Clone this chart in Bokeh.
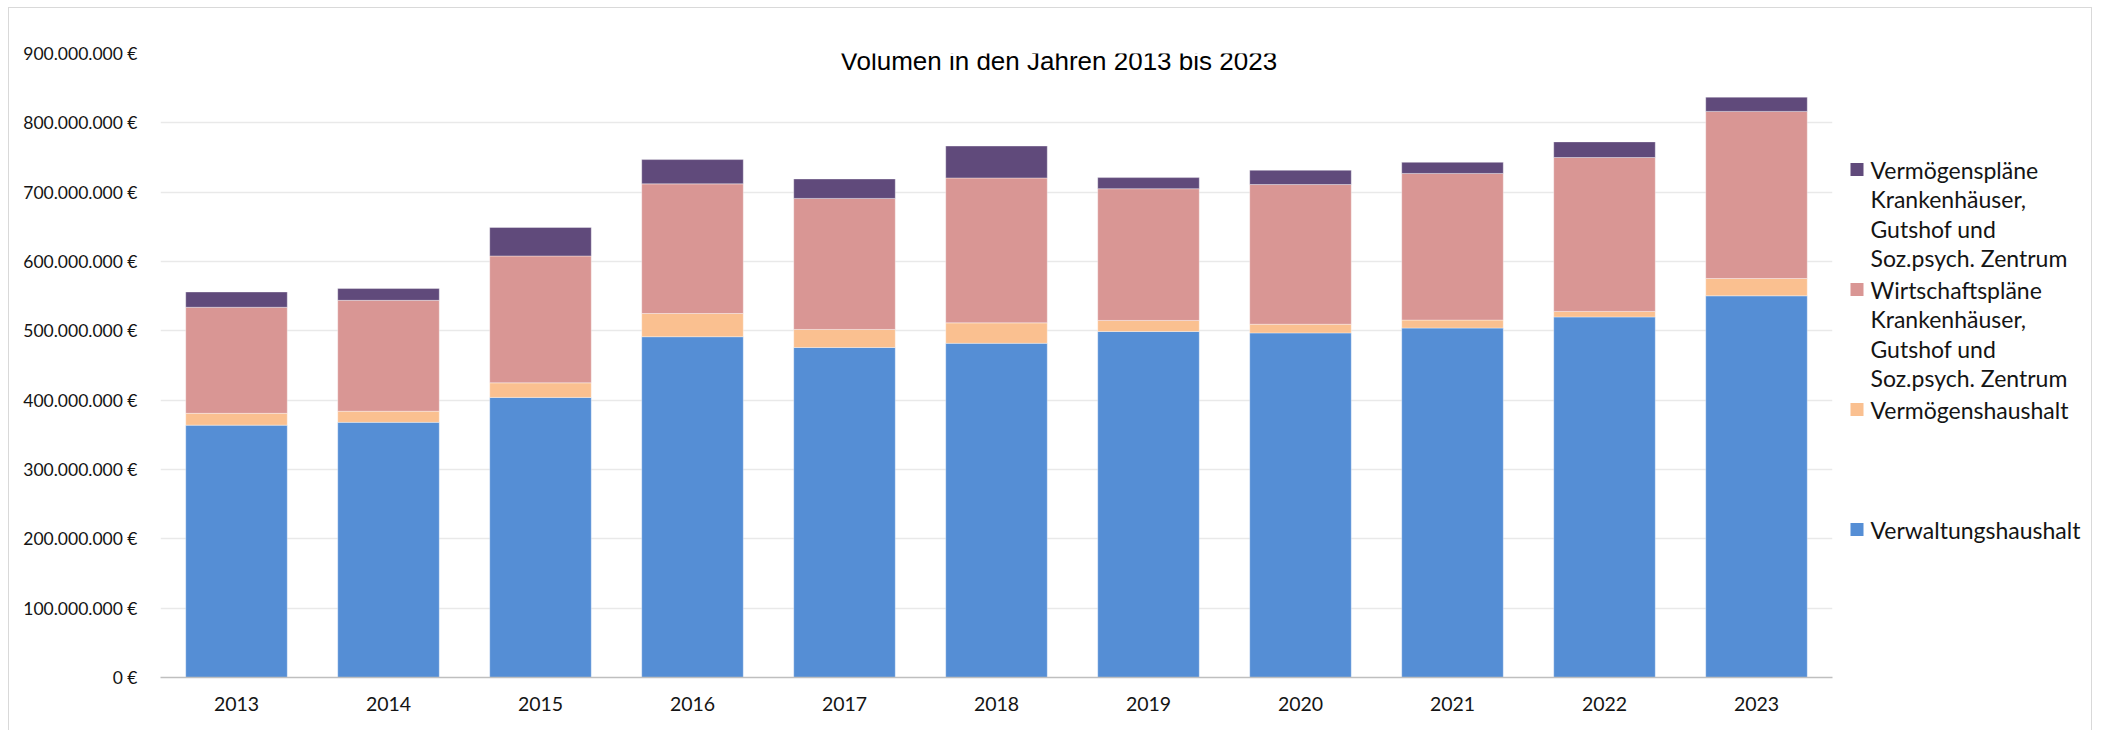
from bokeh.plotting import figure
from bokeh.models import FactorRange, Range1d, FixedTicker, Label, ColumnDataSource
from bokeh.layouts import row
from bokeh.embed import file_html
from bokeh.resources import INLINE
from bokeh.core.properties import value

# ---------------- data ----------------
years = ["2013", "2014", "2015", "2016", "2017", "2018", "2019", "2020", "2021", "2022", "2023"]

verwaltungshaushalt = [364_000_000, 368_000_000, 404_000_000, 491_500_000, 476_000_000, 482_000_000,
                       499_000_000, 497_000_000, 504_000_000, 520_000_000, 550_500_000]
vermoegenshaushalt = [17_000_000, 16_000_000, 21_000_000, 33_500_000, 26_000_000, 29_500_000,
                      16_000_000, 12_500_000, 11_500_000, 8_000_000, 25_000_000]
wirtschaftsplaene = [153_000_000, 160_000_000, 183_000_000, 187_000_000, 189_000_000, 209_000_000,
                     190_000_000, 201_500_000, 211_500_000, 222_000_000, 241_000_000]
vermoegensplaene = [22_000_000, 17_000_000, 41_000_000, 35_000_000, 28_000_000, 46_000_000,
                    16_000_000, 20_500_000, 16_000_000, 22_500_000, 20_500_000]

series_names = [
    "Verwaltungshaushalt",
    "Vermögenshaushalt",
    "Wirtschaftspläne\nKrankenhäuser,\nGutshof und\nSoz.psych. Zentrum",
    "Vermögenspläne\nKrankenhäuser,\nGutshof und\nSoz.psych. Zentrum",
]
colors = ["#558ED5", "#FAC090", "#D99694", "#604A7B"]
y_ticks = [0, 100_000_000, 200_000_000, 300_000_000, 400_000_000, 500_000_000,
           600_000_000, 700_000_000, 800_000_000, 900_000_000]
title_text = "Volumen in den Jahren 2013 bis 2023"

# ---------------- main chart ----------------
keys = ["s0", "s1", "s2", "s3"]
source = ColumnDataSource(dict(year=years, s0=verwaltungshaushalt, s1=vermoegenshaushalt,
                               s2=wirtschaftsplaene, s3=vermoegensplaene))

H = 722
TOP, BOTTOM = 45, 53
p = figure(x_range=FactorRange(*years), y_range=Range1d(0, y_ticks[-1]),
           width=1831, height=H, output_backend="svg", toolbar_location=None,
           min_border_left=151, min_border_right=8, min_border_top=TOP, min_border_bottom=BOTTOM)
p.outline_line_color = None
p.background_fill_color = "white"
p.border_fill_color = "white"

p.vbar_stack(keys, x="year", width=0.668, fill_color=colors, line_color="white",
             line_alpha=0.35, line_width=1, source=source)

p.xgrid.grid_line_color = None
p.ygrid.grid_line_color = "#e9e9e9"
p.ygrid.grid_line_width = 1.5

p.yaxis.ticker = FixedTicker(ticks=y_ticks)
p.yaxis.major_label_overrides = {t: f"{t:,}".replace(",", ".") + " €" for t in y_ticks}
p.yaxis.axis_line_color = None
p.yaxis.major_tick_line_color = None
p.yaxis.minor_tick_line_color = None
p.yaxis.major_label_standoff = 17
p.yaxis.major_label_text_font = "Lato"
p.yaxis.major_label_text_font_size = "17.5px"
p.yaxis.major_label_text_color = "#141414"

p.xaxis.axis_line_color = "#bfbfbf"
p.xaxis.axis_line_width = 1.5
p.xaxis.major_tick_line_color = None
p.xaxis.minor_tick_line_color = None
p.xaxis.major_label_standoff = 13
p.xaxis.major_label_text_font = "Lato"
p.xaxis.major_label_text_font_size = "19.5px"
p.xaxis.major_label_text_color = "#141414"

p.add_layout(Label(x=5.91, y=888_500_000, text=title_text, text_align="center",
                   text_baseline="middle", text_font="Liberation Sans",
                   text_font_size="26px", text_color="#000000"))

# ---------------- legend panel ----------------
LW = 251
frame_h = H - TOP - BOTTOM
leg = figure(width=LW, height=H, x_range=Range1d(0, LW), y_range=Range1d(TOP + frame_h, TOP),
             output_backend="svg", toolbar_location=None,
             min_border_left=0, min_border_right=0, min_border_top=TOP, min_border_bottom=BOTTOM,
             x_axis_type=None, y_axis_type=None)
leg.outline_line_color = None
leg.grid.visible = False

item_tops = [161, 281, 401, 521]
line_step = 29.5
sq_y, sq_c, tx_x, tx_y, tx_t = [], [], [], [], []
for i, (name, col) in enumerate(zip(series_names[::-1], colors[::-1])):
    y0 = item_tops[i]
    sq_y.append(y0)
    sq_c.append(col)
    for j, line in enumerate(name.split("\n")):
        tx_y.append(y0 + j * line_step)
        tx_t.append(line)
        tx_x.append(30)

leg.rect(x=16.5, y=sq_y, width=13, height=13, fill_color=sq_c, line_color=None)
leg.text(x=tx_x, y=tx_y, text=tx_t, text_baseline="middle", text_align="left",
         text_font=value("Lato"), text_font_size="23px", text_color="#141414")

layout = row(p, leg, margin=(7, 0, 0, 8), styles={"border": "1px solid #d9d9d9"})

open("out.html", "w").write(file_html(layout, INLINE))
